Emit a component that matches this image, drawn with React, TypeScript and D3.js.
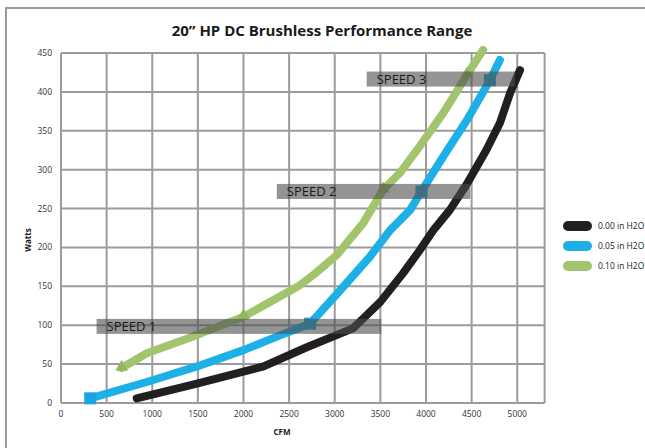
import React from 'react';
import * as d3 from 'd3';

// values (CFM, Watts)
const black000: [number, number][] = [
  [830, 6], [1490, 25], [2220, 47], [2700, 72], [3200, 96], [3500, 130], [3750, 167],
  [3935, 197], [4080, 222], [4260, 248], [4440, 280], [4660, 325], [4810, 360],
  [4920, 398], [5030, 428],
];
const blue005: [number, number][] = [
  [320, 6], [940, 27], [1490, 47], [2000, 68], [2400, 87], [2730, 102], [3060, 145],
  [3385, 188], [3605, 222], [3825, 248], [3950, 272], [4190, 317], [4450, 364],
  [4700, 415], [4810, 441],
];
const green010: [number, number][] = [
  [665, 45], [940, 64], [1410, 84], [2000, 111], [2600, 150], [2780, 166], [3020, 190],
  [3310, 231], [3530, 274], [3715, 296], [3900, 325], [4190, 373], [4450, 422], [4625, 454],
];
const blueMarkers: [number, number][] = [[320, 6], [2730, 102], [3950, 272], [4700, 415]];
const greenMarkers: [number, number][] = [[665, 45], [2000, 111], [3530, 274], [4450, 422]];

// speed bands: label, cfm from, cfm to, watts
const speedNames = ['SPEED 1', 'SPEED 2', 'SPEED 3'];
const speedFrom = [390, 2365, 3350];
const speedTo = [3510, 4485, 4975];
const speedWatts = [98.5, 272, 416.5];

const xTicks = [0, 500, 1000, 1500, 2000, 2500, 3000, 3500, 4000, 4500, 5000];
const yTicks = [0, 50, 100, 150, 200, 250, 300, 350, 400, 450];
const legendLabels = ['0.00 in H2O', '0.05 in H2O', '0.10 in H2O'];
const colors = ['#231f20', '#1cb0e6', '#a2c46c'];

const W = 645;
const H = 448;
const font = "'Open Sans', sans-serif";

export default function App() {
  const x = d3.scaleLinear().domain([0, 5000]).range([61, 517.25]);
  const y = d3.scaleLinear().domain([0, 450]).range([403, 53]);
  const xEnd = 5300;

  const line = d3.line<[number, number]>()
    .x(d => x(d[0]))
    .y(d => y(d[1]))
    .curve(d3.curveLinear);

  const series = [black000, blue005, green010];

  return (
    <svg width={W} height={H} style={{ position: 'absolute', left: 0, top: 0, fontFamily: font }}>
      <rect x={0} y={0} width={W} height={H} fill="#fff" />
      <rect x={6} y={8} width={W + 10} height={H + 10} fill="none" stroke="#9a9a9a" strokeWidth={2} />

      <text x={322} y={36} textAnchor="middle" fontSize={15} fontWeight="bold" fill="#1a1a1a">
        20” HP DC Brushless Performance Range
      </text>

      {/* grid */}
      <g stroke="#9b9b9b" strokeWidth={2}>
        {yTicks.map(t => (
          <line key={'h' + t} x1={x(0)} x2={x(xEnd)} y1={y(t)} y2={y(t)} />
        ))}
        {[...xTicks, xEnd].map(t => (
          <line key={'v' + t} x1={x(t)} x2={x(t)} y1={y(0)} y2={y(450)} />
        ))}
      </g>

      {/* tick labels */}
      <g fontSize={8.5} fill="#333">
        {yTicks.map(t => (
          <text key={'yl' + t} x={52} y={y(t) + 3} textAnchor="end">{t}</text>
        ))}
        {xTicks.map(t => (
          <text key={'xl' + t} x={x(t)} y={417} textAnchor="middle">{t}</text>
        ))}
      </g>
      <text x={282} y={435} textAnchor="middle" fontSize={8} fontWeight="bold" fill="#1a1a1a">CFM</text>
      <text transform="translate(31,240) rotate(-90)" textAnchor="middle" fontSize={8} fontWeight="bold" fill="#1a1a1a">Watts</text>

      {/* curves */}
      {series.map((s, i) => (
        <path key={'s' + i} d={line(s) || ''} fill="none" stroke={colors[i]} strokeWidth={8}
          strokeLinecap="round" strokeLinejoin="round" />
      ))}
      {blueMarkers.map((d, i) => (
        <rect key={'bm' + i} x={x(d[0]) - 6} y={y(d[1]) - 6} width={12} height={12} fill="#1aa5dc" />
      ))}
      {greenMarkers.map((d, i) => (
        <path key={'gm' + i} d={d3.symbol().type(d3.symbolTriangle).size(70)() || ''}
          transform={`translate(${x(d[0])},${y(d[1]) - 1})`} fill="#93b75e" />
      ))}

      {/* speed bands */}
      {speedNames.map((n, i) => (
        <g key={n}>
          <rect x={x(speedFrom[i])} y={y(speedWatts[i]) - 7.5} width={x(speedTo[i]) - x(speedFrom[i])}
            height={15} fill="#4d4d4d" opacity={0.6} />
          <text x={x(speedFrom[i]) + 10} y={y(speedWatts[i]) + 5} fontSize={13} fill="#1a1a1a">{n}</text>
        </g>
      ))}

      {/* legend */}
      {legendLabels.map((l, i) => (
        <g key={l} transform={`translate(563,${226 + i * 20})`}>
          <rect x={0} y={-5} width={29} height={10} rx={5} fill={colors[i]} />
          <text x={35} y={3} fontSize={8.5} fill="#222">{l}</text>
        </g>
      ))}
    </svg>
  );
}
